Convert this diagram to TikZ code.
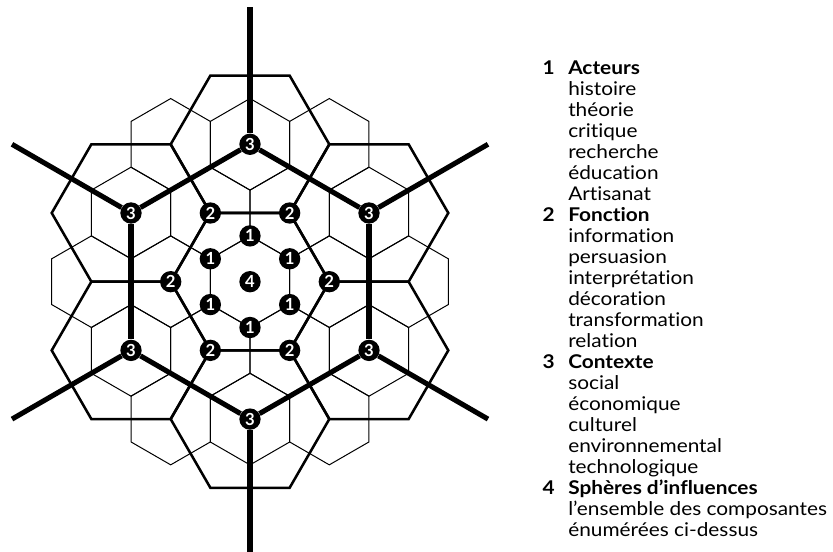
\documentclass[tikz,border=0pt]{standalone}
\usepackage{fontspec}
\setmainfont{Lato}[Ligatures=NoCommon, FakeStretch=1.1]
\newfontfamily\pastillefont{Lato}[Ligatures=NoCommon]
\usetikzlibrary{positioning}

\newcommand{\rayon}{45.8}
\newcommand{\grand}{79.3}

\tikzset{
  fin/.style={line width=0.75pt, line join=miter},
  moyen/.style={line width=1.9pt, line join=miter},
  epais/.style={line width=3.8pt},
  pastille/.style={circle, fill=black, text=white, inner sep=0pt,
    minimum size=16pt, font=\pastillefont\bfseries\fontsize{12.5}{12.5}\selectfont},
  legtext/.style={anchor=base west, inner sep=0pt,
    font=\fontsize{14.2}{15.75}\selectfont},
  legnum/.style={anchor=base east, inner sep=0pt,
    font=\bfseries\fontsize{14.2}{15.75}\selectfont},
  petithex/.pic={\draw[fin] (30:\rayon) -- (90:\rayon) -- (150:\rayon)
    -- (210:\rayon) -- (270:\rayon) -- (330:\rayon) -- cycle;},
  grandhex/.pic={\draw[moyen] (0:\grand) -- (60:\grand) -- (120:\grand)
    -- (180:\grand) -- (240:\grand) -- (300:\grand) -- cycle;}
}

\begin{document}
\begin{tikzpicture}[x=0.75pt,y=0.75pt]
  \useasboundingbox (0,0) rectangle (833,552);
  \clip (0,0) rectangle (833,552);

  \begin{scope}[shift={(250,270.3)}]
    %-- pavage fin --
    \pic at (0,0) {petithex};
    \foreach \k in {0,...,5} {
      \foreach \ang/\rr in {60*\k/\grand, 60*\k/2*\grand, 30+60*\k/3*\rayon}
        \pic at (\ang:\rr) {petithex};
    }

    %-- grands hexagones --
    \pic at (0,0) {grandhex};
    \foreach \k in {0,...,5}
      \pic at (30+60*\k:3*\rayon) {grandhex};

    %-- pastilles --
    \node[pastille] (c4) at (0,0) {4};
    \foreach \k in {0,...,5} {
      \node[pastille] (u\k) at (30+60*\k:\rayon) {1};
      \node[pastille] (d\k) at (60*\k:\grand) {2};
      \node[pastille] (t\k) at (30+60*\k:3*\rayon) {3};
      \coordinate (b\k) at (30+60*\k:6*\rayon);
    }

    %-- contexte --
    \foreach \k [evaluate=\k as \m using {int(mod(\k+1,6))}] in {0,...,5} {
      \draw[epais] (t\k) -- (t\m);
      \draw[epais] (t\k) -- (b\k);
    }
  \end{scope}

  %-- legende --
  \foreach \ligne [count=\n from 0] in {{\textbf{Acteurs}}, histoire, théorie,
      critique, recherche, éducation, Artisanat, {\textbf{Fonction}},
      information, persuasion, interprétation, décoration, transformation,
      relation, {\textbf{Contexte}}, social, économique, culturel,
      environnemental, technologique, {\textbf{Sphères d’influences}},
      l’ensemble des composantes, énumérées ci-dessus}
    \node[legtext] (l\n) at (568,{477.3-21*\n}) {\ligne};
  \foreach \num/\n in {1/0, 2/7, 3/14, 4/20}
    \node[legnum] (k\num) at ([xshift=-9.75pt]l\n.base west) {\num};
\end{tikzpicture}
\end{document}
